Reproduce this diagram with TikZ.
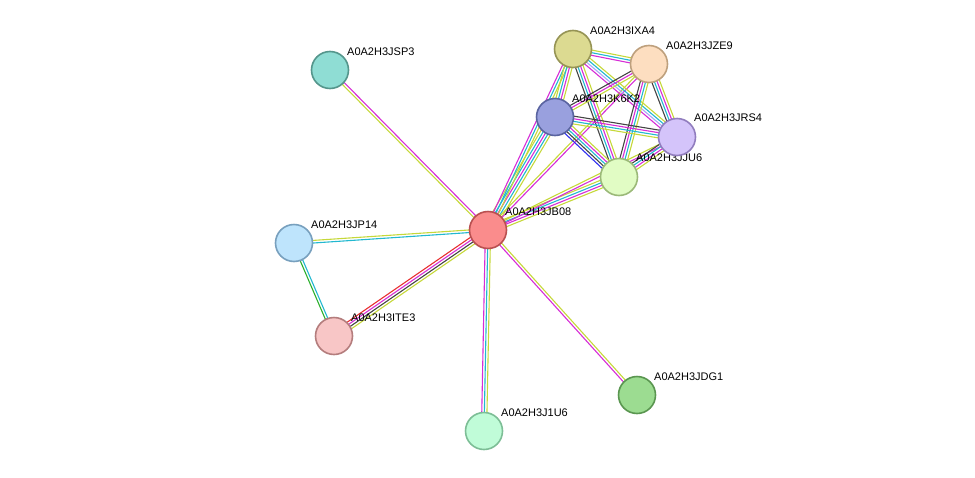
\documentclass[tikz,border=0pt]{standalone}
\usepackage{fontspec}
\setmainfont{Liberation Sans}
\usetikzlibrary{calc}
\definecolor{yg}{HTML}{C6D83A}
\definecolor{cy}{HTML}{22B8D0}
\definecolor{mg}{HTML}{D62DD6}
\definecolor{bk}{HTML}{444444}
\definecolor{bl}{HTML}{2E2EF0}
\definecolor{rd}{HTML}{E83030}
\definecolor{gr}{HTML}{2DB02D}
\definecolor{hm}{HTML}{A8A8F8}
\tikzset{
 prot/.style={circle,draw,line width=1.6pt,minimum size=37pt,inner sep=0pt},
 lab/.style={anchor=south west,font=\fontsize{11}{13}\selectfont,inner sep=0pt},
}
% \edg{a}{b}{colors}
\newcommand\edg[3]{%
 \foreach \c [count=\i] in {#3} {\xdef\nn{\i}}%
 \foreach \c [count=\i] in {#3} {%
  \pgfmathsetmacro\off{(\i-(\nn+1)/2)*2.6}%
  \draw[\c,line width=1.1pt] ($(#1)!\off pt!90:(#2)$) -- ($(#2)!\off pt!-90:(#1)$);
 }}
\begin{document}
\begin{tikzpicture}[x=1pt,y=-1pt]
\useasboundingbox (0,0) rectangle (975,477);
\coordinate (JSP3) at (330,70);
\coordinate (IXA4) at (573,49);
\coordinate (JZE9) at (649,64);
\coordinate (K6K2) at (555,117);
\coordinate (JRS4) at (677,137);
\coordinate (JJU6) at (619,177);
\coordinate (JB08) at (488,230);
\coordinate (JP14) at (294,243);
\coordinate (ITE3) at (334,336);
\coordinate (J1U6) at (484,431);
\coordinate (JDG1) at (637,395);
% edges
\edg{JB08}{JSP3}{mg,yg}
\edg{JB08}{JP14}{yg,cy}
\edg{JP14}{ITE3}{gr,cy}
\edg{JB08}{ITE3}{rd,mg,bk,yg}
\edg{JB08}{J1U6}{mg,cy,yg}
\edg{JB08}{JDG1}{mg,yg}
\edg{JB08}{K6K2}{yg,cy,mg,cy,yg}
\edg{JB08}{IXA4}{yg,cy,mg}
\edg{JB08}{JZE9}{mg,yg}
\edg{JB08}{JJU6}{yg,mg,cy,yg}
\edg{JB08}{JRS4}{mg,yg}
\edg{IXA4}{JZE9}{mg,cy,yg}
\edg{IXA4}{K6K2}{yg,cy,mg,yg}
\edg{IXA4}{JRS4}{mg,hm,cy,yg}
\edg{IXA4}{JJU6}{bk,cy,mg,yg}
\edg{JZE9}{K6K2}{bk,mg,yg}
\edg{JZE9}{JRS4}{bk,cy,mg,yg}
\edg{JZE9}{JJU6}{bk,mg,cy,yg}
\edg{K6K2}{JRS4}{yg,cy,mg,bk}
\edg{K6K2}{JJU6}{bl,bk,cy,mg,yg}
\edg{JRS4}{JJU6}{bk,cy,mg,yg}
% labels
\node[lab] (lJSP3) at (347,56) {A0A2H3JSP3};
\node[lab] (lIXA4) at (590,35) {A0A2H3IXA4};
\node[lab] (lJZE9) at (666,50) {A0A2H3JZE9};
\node[lab] (lK6K2) at (572,103) {A0A2H3K6K2};
\node[lab] (lJRS4) at (694,122) {A0A2H3JRS4};
\node[lab] (lJJU6) at (636,162) {A0A2H3JJU6};
\node[lab] (lJB08) at (505,216) {A0A2H3JB08};
\node[lab] (lJP14) at (311,229) {A0A2H3JP14};
\node[lab] (lITE3) at (351,322) {A0A2H3ITE3};
\node[lab] (lJ1U6) at (501,417) {A0A2H3J1U6};
\node[lab] (lJDG1) at (654,381) {A0A2H3JDG1};
% nodes
\node[prot,fill={rgb,255:red,143;green,221;blue,212},draw={rgb,255:red,85;green,150;blue,140}] (nJSP3) at (JSP3) {};
\node[prot,fill={rgb,255:red,220;green,218;blue,145},draw={rgb,255:red,150;green,148;blue,85}] (nIXA4) at (IXA4) {};
\node[prot,fill={rgb,255:red,253;green,222;blue,192},draw={rgb,255:red,190;green,160;blue,125}] (nJZE9) at (JZE9) {};
\node[prot,fill={rgb,255:red,153;green,160;blue,222},draw={rgb,255:red,90;green,100;blue,160}] (nK6K2) at (K6K2) {};
\node[prot,fill={rgb,255:red,212;green,196;blue,250},draw={rgb,255:red,145;green,125;blue,190}] (nJRS4) at (JRS4) {};
\node[prot,fill={rgb,255:red,225;green,252;blue,196},draw={rgb,255:red,155;green,185;blue,120}] (nJJU6) at (JJU6) {};
\node[prot,fill={rgb,255:red,250;green,140;blue,140},draw={rgb,255:red,185;green,80;blue,80}] (nJB08) at (JB08) {};
\node[prot,fill={rgb,255:red,190;green,228;blue,252},draw={rgb,255:red,120;green,160;blue,190}] (nJP14) at (JP14) {};
\node[prot,fill={rgb,255:red,248;green,198;blue,198},draw={rgb,255:red,180;green,125;blue,125}] (nITE3) at (ITE3) {};
\node[prot,fill={rgb,255:red,192;green,252;blue,216},draw={rgb,255:red,125;green,190;blue,150}] (nJ1U6) at (J1U6) {};
\node[prot,fill={rgb,255:red,156;green,220;blue,145},draw={rgb,255:red,90;green,150;blue,80}] (nJDG1) at (JDG1) {};
\end{tikzpicture}
\end{document}
